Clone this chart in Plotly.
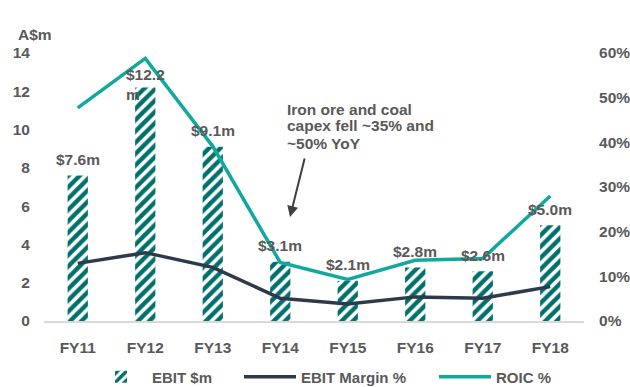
import plotly.graph_objects as go

# Financial years on the category axis
years = ["FY11", "FY12", "FY13", "FY14", "FY15", "FY16", "FY17", "FY18"]

# EBIT in A$ millions (bars, left axis)
ebit_m = [7.6, 12.2, 9.1, 3.1, 2.1, 2.8, 2.6, 5.0]

# Percent series (lines, right axis)
ebit_margin_pct = [12.9, 15.3, 12.0, 5.1, 3.8, 5.4, 5.1, 7.7]
roic_pct = [47.7, 58.8, 39.1, 13.1, 9.3, 13.6, 14.0, 28.0]

# Axis ticks
left_ticks = [0, 2, 4, 6, 8, 10, 12, 14]
right_ticks = [0, 10, 20, 30, 40, 50, 60]

# Commentary lines
note_lines = ["Iron ore and coal", "capex fell ~35% and", "~50% YoY"]

TEXT = "#595959"
TEAL_BAR = "#00706B"
ROIC_COL = "#13A89E"
MARGIN_COL = "#2E3A4B"
FONT = "Liberation Sans"
FS = 15.5

W, H = 630, 387
L, R, T, B = 44, 46, 53, 66          # plot area edges in pixels
PW, PH = W - L - R, H - T - B


def px_to_paper(x, y):
    return (x - L) / PW, (H - B - y) / PH


fig = go.Figure()

fig.add_trace(go.Bar(
    x=years, y=ebit_m, name="EBIT $m", width=0.3, legend="legend",
    marker=dict(
        color="white",
        line=dict(width=0),
        pattern=dict(shape="/", fgcolor=TEAL_BAR, bgcolor="white",
                     fgopacity=1, size=8, solidity=0.55, fillmode="replace"),
    ),
    yaxis="y",
))

fig.add_trace(go.Scatter(
    x=years, y=ebit_margin_pct, name="EBIT Margin %", mode="lines",
    legend="legend2",
    line=dict(color=MARGIN_COL, width=3.5), yaxis="y2",
))

fig.add_trace(go.Scatter(
    x=years, y=roic_pct, name="ROIC %", mode="lines", legend="legend3",
    line=dict(color=ROIC_COL, width=3.5), yaxis="y2",
))

bold = dict(family=FONT, size=FS, color=TEXT, weight="bold")


def bar_label(v):
    s = f"${v:.1f}m"
    # labels wider than the column slot wrap before the unit
    return s[:-1] + "<br>m" if len(s) > 5 else s


annotations = []
for yr, v in zip(years, ebit_m):
    txt = bar_label(v)
    wrapped = "<br>" in txt
    annotations.append(dict(
        x=yr, y=v, xref="x", yref="y", text=txt, showarrow=False,
        yanchor="middle", yshift=3 if wrapped else 16,
        font=bold, align="left" if wrapped else "center",
    ))

# Axis unit title
ax_, ay_ = px_to_paper(35, 35)
annotations.append(dict(x=ax_, y=ay_, xref="paper", yref="paper", text="A$m",
                        showarrow=False, font=bold, xanchor="center", yanchor="middle"))

# Commentary text, one annotation per line for tight leading
for i, line in enumerate(note_lines):
    lx, ly = px_to_paper(285, 109 + 17 * i)
    annotations.append(dict(
        x=lx, y=ly, xref="paper", yref="paper", text=line,
        showarrow=False, xanchor="left", yanchor="middle", font=bold,
    ))

# Arrow pointing down to the FY14 drop
hx, hy = px_to_paper(290, 217)
annotations.append(dict(
    x=hx, y=hy, xref="paper", yref="paper", text="",
    showarrow=True, arrowhead=2, arrowsize=1.1, arrowwidth=2,
    arrowcolor="#404040", ax=15, ay=-60, axref="pixel", ayref="pixel",
))


def legend_at(px):
    return dict(
        orientation="h", x=px_to_paper(px, 0)[0], xanchor="left",
        y=px_to_paper(0, 377)[1], yanchor="middle",
        font=dict(family=FONT, size=15, color=TEXT, weight="bold"),
        itemwidth=52, bgcolor="rgba(0,0,0,0)",
    )


fig.update_layout(
    width=W, height=H,
    margin=dict(l=L, r=R, t=T, b=B, pad=0, autoexpand=False),
    paper_bgcolor="white", plot_bgcolor="white",
    showlegend=True,
    bargap=0.7,
    font=dict(family=FONT, size=FS, color=TEXT),
    xaxis=dict(
        type="category", showgrid=False, zeroline=False,
        showline=True, linecolor="#D9D9D9", linewidth=2,
        ticks="outside", ticklen=11, tickcolor="rgba(0,0,0,0)",
        tickfont=bold, range=[-0.5, 7.5],
    ),
    yaxis=dict(
        range=[0, 14], tickvals=left_ticks, showgrid=False, zeroline=False,
        showline=False, ticks="outside", ticklen=10, tickcolor="rgba(0,0,0,0)",
        tickfont=bold,
    ),
    yaxis2=dict(
        range=[0, 60], tickvals=right_ticks, ticktext=[f"{t}%" for t in right_ticks],
        overlaying="y", side="right", showgrid=False, zeroline=False,
        showline=False, ticks="outside", ticklen=11, tickcolor="rgba(0,0,0,0)",
        tickfont=bold,
    ),
    legend=legend_at(90),
    legend2=legend_at(239),
    legend3=legend_at(434),
    annotations=annotations,
)

fig.write_html("out.html")
